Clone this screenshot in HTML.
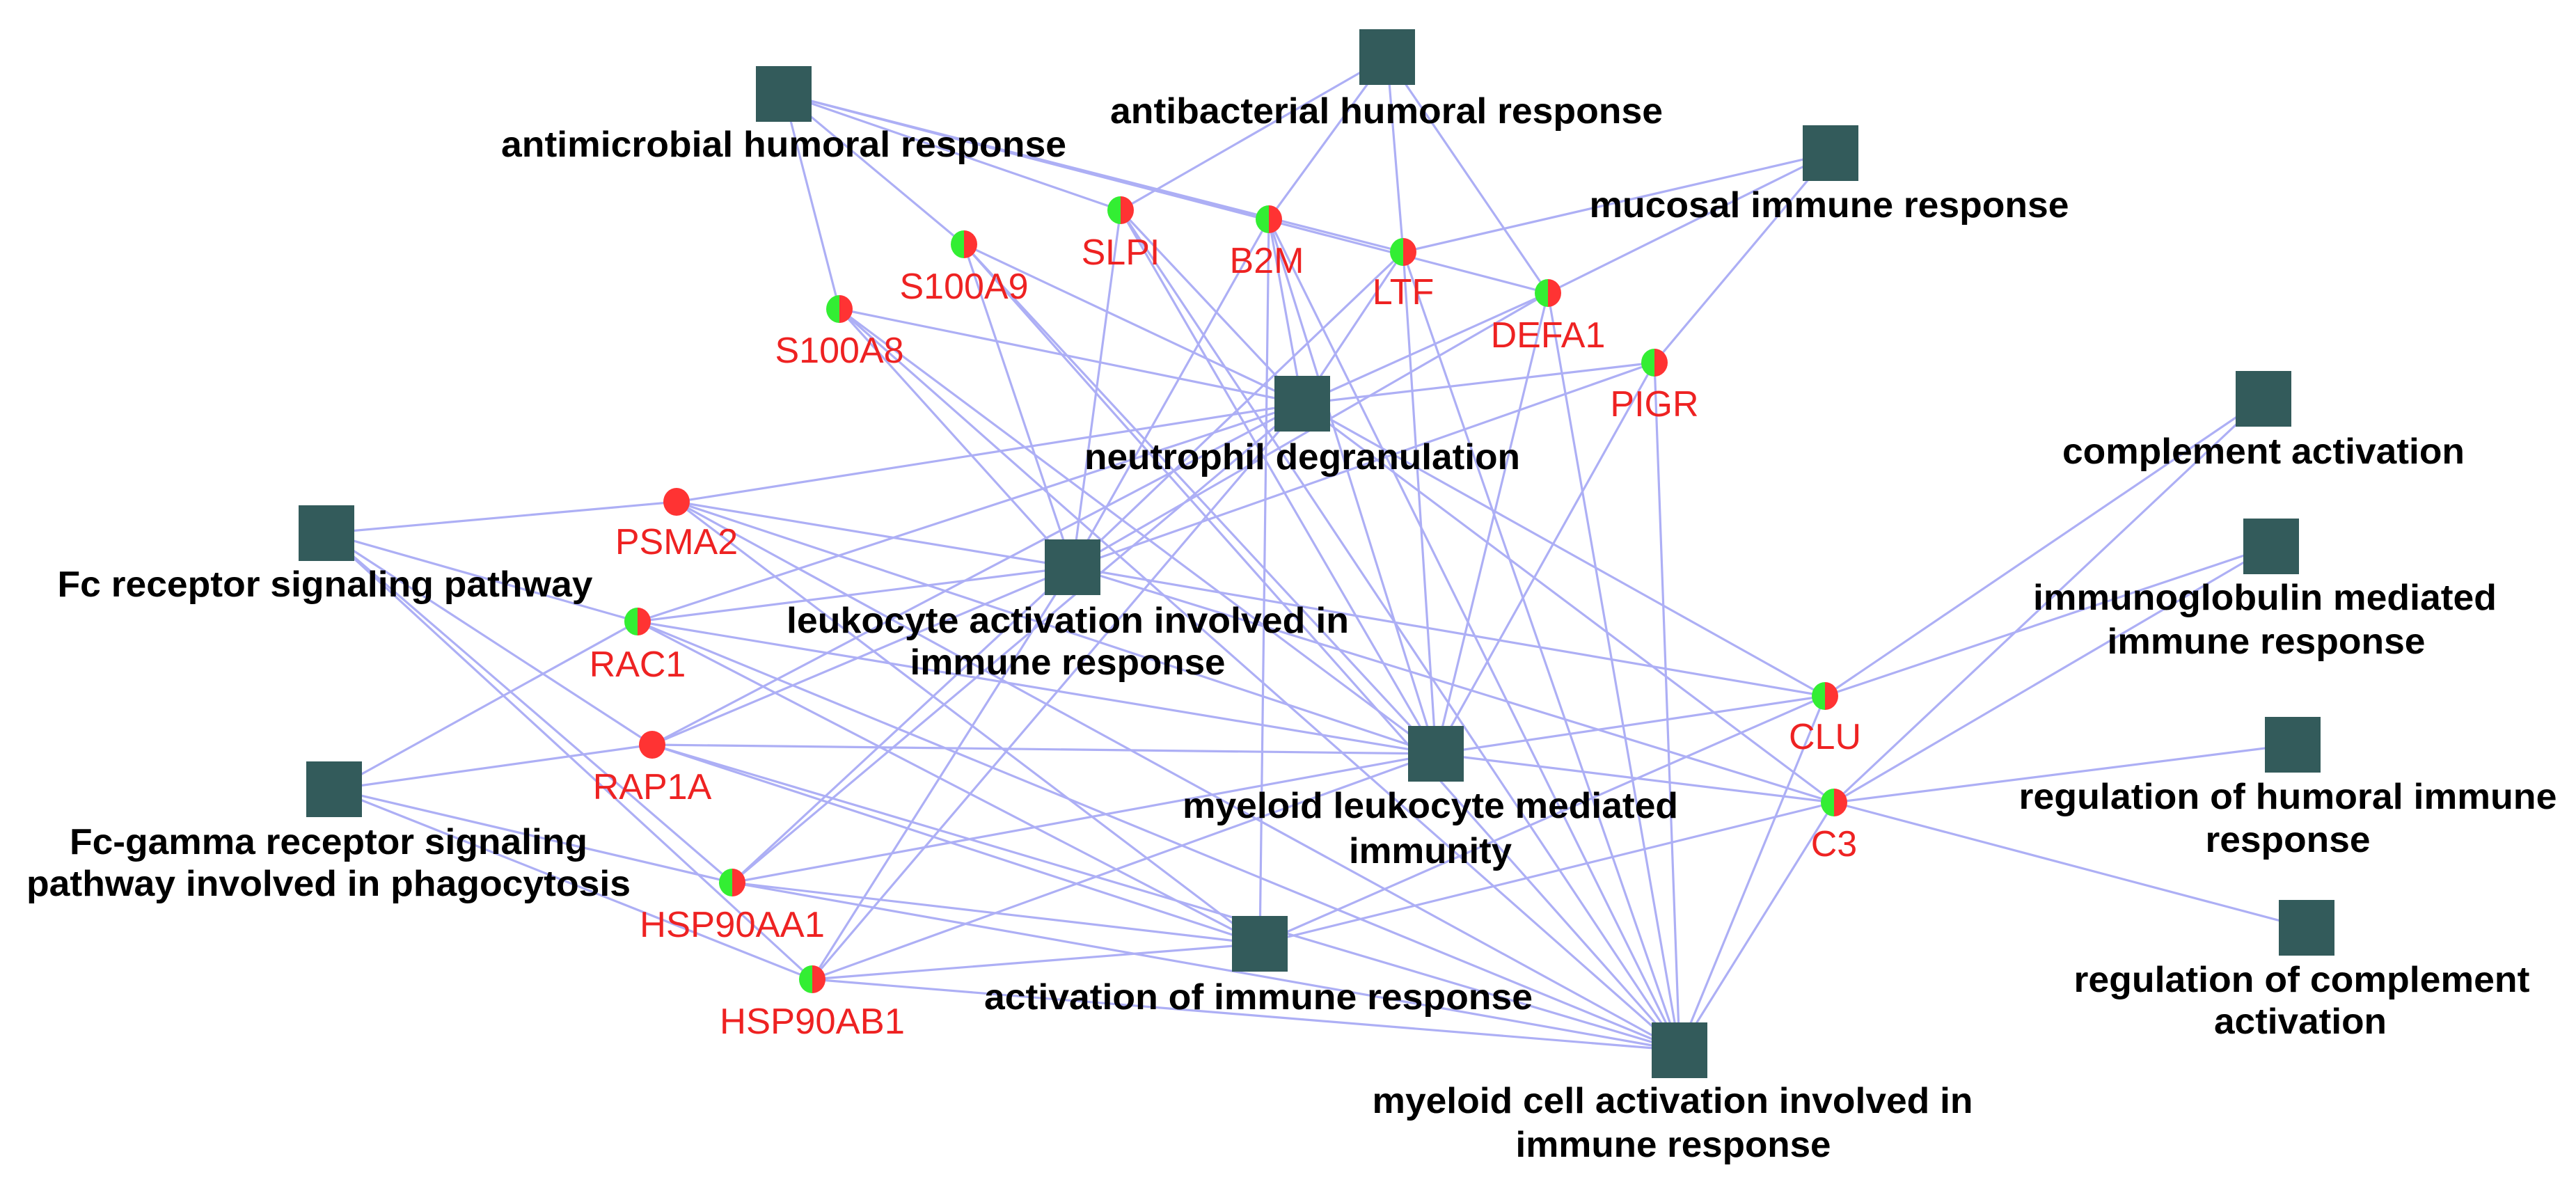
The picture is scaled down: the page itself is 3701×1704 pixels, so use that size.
<!DOCTYPE html>
<html><head><meta charset="utf-8"><style>html,body{margin:0;padding:0;background:#fff}svg{display:block}</style></head>
<body>
<svg width="3701" height="1704" viewBox="0 0 3701 1704" xmlns="http://www.w3.org/2000/svg">
<rect width="3701" height="1704" fill="#fff"/>
<g stroke="#adaff5" stroke-width="3.2" fill="none">
<path d="M1126 135L1206 444M1126 135L1385 351M1126 135L1610 302M1126 135L1823 315M1126 135L2016 362M1126 135L2224 421"/>
<path d="M1993 82L1610 302M1993 82L1823 315M1993 82L2016 362M1993 82L2224 421"/>
<path d="M2630 220L2016 362M2630 220L2224 421M2630 220L2377 521"/>
<path d="M1871 580L1610 302M1871 580L1823 315M1871 580L1385 351M1871 580L1206 444M1871 580L2016 362M1871 580L2224 421M1871 580L2377 521M1871 580L972 721M1871 580L916 893M1871 580L937 1070M1871 580L1052 1268M1871 580L1167 1407M1871 580L2622 1000M1871 580L2635 1153"/>
<path d="M1541 815L1610 302M1541 815L1823 315M1541 815L1385 351M1541 815L1206 444M1541 815L2016 362M1541 815L2224 421M1541 815L2377 521M1541 815L972 721M1541 815L916 893M1541 815L937 1070M1541 815L1052 1268M1541 815L1167 1407M1541 815L2622 1000M1541 815L2635 1153"/>
<path d="M2063 1083L1610 302M2063 1083L1823 315M2063 1083L1385 351M2063 1083L1206 444M2063 1083L2016 362M2063 1083L2224 421M2063 1083L2377 521M2063 1083L972 721M2063 1083L916 893M2063 1083L937 1070M2063 1083L1052 1268M2063 1083L1167 1407M2063 1083L2622 1000M2063 1083L2635 1153"/>
<path d="M2413 1509L1610 302M2413 1509L1823 315M2413 1509L1385 351M2413 1509L1206 444M2413 1509L2016 362M2413 1509L2224 421M2413 1509L2377 521M2413 1509L972 721M2413 1509L916 893M2413 1509L937 1070M2413 1509L1052 1268M2413 1509L1167 1407M2413 1509L2622 1000M2413 1509L2635 1153"/>
<path d="M1810 1356L916 893M1810 1356L937 1070M1810 1356L1052 1268M1810 1356L1167 1407M1810 1356L2635 1153M1810 1356L2622 1000M1810 1356L1823 315M1810 1356L972 721"/>
<path d="M469 766L972 721M469 766L916 893M469 766L1052 1268M469 766L1167 1407M469 766L937 1070"/>
<path d="M480 1134L916 893M480 1134L937 1070M480 1134L1052 1268M480 1134L1167 1407"/>
<path d="M3252 573L2622 1000M3252 573L2635 1153M3263 785L2622 1000M3263 785L2635 1153M3294 1070L2635 1153M3314 1333L2635 1153"/>
</g>
<g fill="#335b5b">
<rect x="1086" y="95" width="80" height="80"/>
<rect x="1953" y="42" width="80" height="80"/>
<rect x="2590" y="180" width="80" height="80"/>
<rect x="1831" y="540" width="80" height="80"/>
<rect x="429" y="726" width="80" height="80"/>
<rect x="1501" y="775" width="80" height="80"/>
<rect x="440" y="1094" width="80" height="80"/>
<rect x="2023" y="1043" width="80" height="80"/>
<rect x="1770" y="1316" width="80" height="80"/>
<rect x="2373" y="1469" width="80" height="80"/>
<rect x="3212" y="533" width="80" height="80"/>
<rect x="3223" y="745" width="80" height="80"/>
<rect x="3254" y="1030" width="80" height="80"/>
<rect x="3274" y="1293" width="80" height="80"/>
</g>
<defs>
<clipPath id="L"><rect x="-30" y="-30" width="30" height="60"/></clipPath>
<clipPath id="R"><rect x="0" y="-30" width="30" height="60"/></clipPath>
<g id="g"><ellipse rx="19" ry="20" fill="#33ee33" clip-path="url(#L)"/><ellipse rx="19" ry="20" fill="#ff3333" clip-path="url(#R)"/></g>
</defs>
<use href="#g" x="1610" y="302"/>
<use href="#g" x="1823" y="315"/>
<use href="#g" x="1385" y="351"/>
<use href="#g" x="1206" y="444"/>
<use href="#g" x="2016" y="362"/>
<use href="#g" x="2224" y="421"/>
<use href="#g" x="2377" y="521"/>
<use href="#g" x="916" y="893"/>
<use href="#g" x="1052" y="1268"/>
<use href="#g" x="1167" y="1407"/>
<use href="#g" x="2622" y="1000"/>
<use href="#g" x="2635" y="1153"/>
<ellipse cx="972" cy="721" rx="19" ry="20" fill="#ff3333"/>
<ellipse cx="937" cy="1070" rx="19" ry="20" fill="#ff3333"/>
<g font-family="Liberation Sans, Arial, sans-serif" font-size="52" fill="#ee2222" text-anchor="middle">
<text x="1610" y="380">SLPI</text>
<text x="1820" y="392">B2M</text>
<text x="1385" y="429">S100A9</text>
<text x="1206" y="521">S100A8</text>
<text x="2016" y="437">LTF</text>
<text x="2224" y="499">DEFA1</text>
<text x="2377" y="598">PIGR</text>
<text x="972" y="796">PSMA2</text>
<text x="916" y="972">RAC1</text>
<text x="937" y="1148">RAP1A</text>
<text x="1052" y="1346" textLength="266" lengthAdjust="spacingAndGlyphs">HSP90AA1</text>
<text x="1167" y="1485" textLength="266" lengthAdjust="spacingAndGlyphs">HSP90AB1</text>
<text x="2622" y="1076">CLU</text>
<text x="2635" y="1230">C3</text>
</g>
<g font-family="Liberation Sans, Arial, sans-serif" font-size="52" font-weight="bold" fill="#000" text-anchor="middle">
<text x="1126" y="225" textLength="812" lengthAdjust="spacingAndGlyphs">antimicrobial humoral response</text>
<text x="1992" y="177" textLength="794" lengthAdjust="spacingAndGlyphs">antibacterial humoral response</text>
<text x="2628" y="312" textLength="689" lengthAdjust="spacingAndGlyphs">mucosal immune response</text>
<text x="1871" y="674" textLength="626" lengthAdjust="spacingAndGlyphs">neutrophil degranulation</text>
<text x="467" y="857" textLength="769" lengthAdjust="spacingAndGlyphs">Fc receptor signaling pathway</text>
<text x="1534" y="909" textLength="808" lengthAdjust="spacingAndGlyphs">leukocyte activation involved in</text>
<text x="1534" y="969" textLength="453" lengthAdjust="spacingAndGlyphs">immune response</text>
<text x="472" y="1227" textLength="744" lengthAdjust="spacingAndGlyphs">Fc-gamma receptor signaling</text>
<text x="472" y="1287" textLength="868" lengthAdjust="spacingAndGlyphs">pathway involved in phagocytosis</text>
<text x="1808" y="1450" textLength="788" lengthAdjust="spacingAndGlyphs">activation of immune response</text>
<text x="2055" y="1175" textLength="712" lengthAdjust="spacingAndGlyphs">myeloid leukocyte mediated</text>
<text x="2055" y="1240" textLength="234" lengthAdjust="spacingAndGlyphs">immunity</text>
<text x="2403" y="1599" textLength="863" lengthAdjust="spacingAndGlyphs">myeloid cell activation involved in</text>
<text x="2404" y="1662" textLength="453" lengthAdjust="spacingAndGlyphs">immune response</text>
<text x="3252" y="666" textLength="578" lengthAdjust="spacingAndGlyphs">complement activation</text>
<text x="3254" y="876" textLength="666" lengthAdjust="spacingAndGlyphs">immunoglobulin mediated</text>
<text x="3256" y="939" textLength="457" lengthAdjust="spacingAndGlyphs">immune response</text>
<text x="3287" y="1162" textLength="773" lengthAdjust="spacingAndGlyphs">regulation of humoral immune</text>
<text x="3287" y="1224" textLength="237" lengthAdjust="spacingAndGlyphs">response</text>
<text x="3307" y="1425" textLength="655" lengthAdjust="spacingAndGlyphs">regulation of complement</text>
<text x="3305" y="1485" textLength="248" lengthAdjust="spacingAndGlyphs">activation</text>
</g>
</svg>
</body></html>
